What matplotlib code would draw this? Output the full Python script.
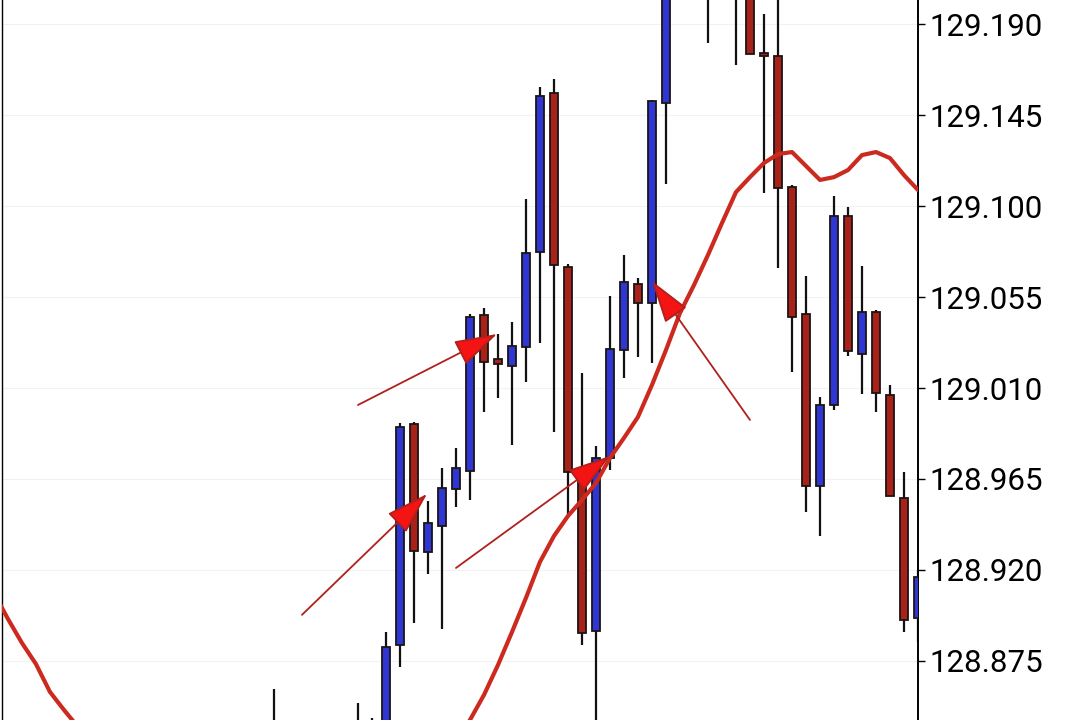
import matplotlib
matplotlib.use("Agg")
import matplotlib.pyplot as plt
from matplotlib.patches import FancyArrowPatch

# candle index 0 is the first candle whose wick shows at the bottom
opens = [128.820, 128.835, 128.820, 128.806, 128.812, 128.826, 128.822, 128.836,
         128.832, 128.8829, 128.9922, 128.9289, 128.9418, 128.9601, 128.9690, 129.0461,
         129.0243, 129.0209, 129.0303, 129.0773, 129.1559, 129.0698, 128.9675, 128.8898,
         128.9754, 129.0288, 129.0614, 129.0520, 129.1509, 129.2210, 129.2120, 129.2190,
         129.2100, 129.2140, 129.2060, 129.1757, 129.1742, 129.1094, 129.0466, 128.9615,
         129.0016, 129.0951, 129.0268, 129.0476, 129.0065, 128.9556, 128.8963]
highs = [128.8612, 128.842, 128.828, 128.818, 128.830, 128.838, 128.8542, 128.8468,
         128.8893, 128.9927, 128.9932, 128.9541, 128.9704, 128.9803, 129.0466, 129.0496,
         129.0367, 129.0426, 129.1035, 129.1589, 129.1628, 129.0713, 129.0174, 128.9813,
         129.0555, 129.0758, 129.0644, 129.1524, 129.2250, 129.2280, 129.2260, 129.2240,
         129.2200, 129.2180, 129.2100, 129.1949, 129.2050, 129.1104, 129.0654, 129.0056,
         129.1050, 129.0995, 129.0703, 129.0486, 129.0115, 128.9685, 128.9200]
lows = [128.812, 128.815, 128.800, 128.795, 128.805, 128.818, 128.815, 128.825,
        128.828, 128.8720, 128.8938, 128.9180, 128.8908, 128.9512, 128.9546, 128.9981,
        129.0051, 128.9818, 129.0130, 129.0323, 128.9882, 128.9462, 128.8829, 128.8335,
        128.9695, 129.0150, 129.0253, 129.0224, 129.1109, 129.2050, 129.2040, 129.1806,
        129.2030, 129.1697, 129.1750, 129.1064, 129.0693, 129.0179, 128.9487, 128.9368,
        128.9991, 129.0258, 129.0070, 128.9981, 128.9566, 128.8893, 128.8844]
closes = [128.835, 128.820, 128.806, 128.812, 128.826, 128.822, 128.836, 128.832,
          128.8819, 128.9907, 128.9294, 128.9433, 128.9606, 128.9704, 129.0451, 129.0229,
          129.0219, 129.0308, 129.0768, 129.1544, 129.0708, 128.9685, 128.8889, 128.9754,
          129.0293, 129.0624, 129.0520, 129.1519, 129.2210, 129.2120, 129.2190, 129.2100,
          129.2140, 129.2060, 129.1752, 129.1742, 129.1089, 129.0451, 128.9615, 129.0016,
          129.0951, 129.0283, 129.0476, 129.0075, 128.9566, 128.8953, 128.9165]

# moving average, read at candle indices -20 .. 46
ma_start = -20
ma = [128.9086, 128.8958, 128.8839, 128.8735, 128.8597, 128.8508, 128.8424, 128.8310,
      128.8211, 128.8112, 128.8038, 128.7974, 128.7914, 128.7865, 128.7825, 128.7796,
      128.7776, 128.7766, 128.7766, 128.7781, 128.7806, 128.7840, 128.7885, 128.7934,
      128.7989, 128.8048, 128.8102, 128.8152, 128.8196, 128.8236, 128.8200, 128.8240,
      128.8285, 128.8350, 128.8458, 128.8582, 128.8730, 128.8893, 128.9062, 128.9240,
      128.9368, 128.9467, 128.9546, 128.9630, 128.9754, 128.9853, 128.9957, 129.0115,
      129.0288, 129.0471, 129.0609, 129.0758, 129.0916, 129.1069, 129.1143, 129.1213,
      129.1257, 129.1267, 129.1198, 129.1129, 129.1143, 129.1178, 129.1252, 129.1267,
      129.1237, 129.1153, 129.1079]

# arrows: (start index, start price, tip index, tip price)
arrows = [(2.0, 128.8978, 10.93, 128.9576),
          (6.0, 129.0016, 15.93, 129.0367),
          (13.0, 128.9210, 24.0, 128.9764),
          (34.0, 128.9942, 27.0, 129.0629)]

yticks = [128.875, 128.920, 128.965, 129.010, 129.055, 129.100, 129.145, 129.190]

UP = '#2e36d4'
DOWN = '#a8221a'
MA_COLOR = '#cc2a1e'

fig = plt.figure(figsize=(10.8, 7.2), dpi=100)
ax = fig.add_axes([1.5 / 1080, 0, 916.5 / 1080, 1])

xs = list(range(len(opens)))
ax.vlines(xs, lows, highs, color='#111111', linewidth=1.6, zorder=2)
for x, o, c in zip(xs, opens, closes):
    col = UP if c > o else DOWN
    h = abs(c - o)
    if h < 0.0012:
        h = 0.0012
    ax.bar(x, h, bottom=min(o, c) if abs(c - o) >= 0.0012 else (o + c) / 2 - 0.0006,
           width=0.62, color=col, edgecolor='#1c1414', linewidth=1.3, zorder=3)

ma_x = list(range(ma_start, ma_start + len(ma)))
ax.plot(ma_x, ma, color=MA_COLOR, linewidth=3.0, zorder=4, solid_capstyle='round')

for x0, y0, x1, y1 in arrows:
    arr = FancyArrowPatch((x0, y0), (x1, y1),
                          arrowstyle='-|>,head_length=1.35,head_width=0.42',
                          mutation_scale=20, facecolor='#f41414', edgecolor='#b0201c',
                          linewidth=1.3, zorder=5, shrinkA=0, shrinkB=0)
    ax.add_patch(arr)

ax.set_xlim(-19.46, 46.0)
ax.set_ylim(128.8458, 129.2019)

ax.yaxis.tick_right()
ax.set_yticks(yticks)
ax.set_yticklabels([f'{t:.3f}' for t in yticks], fontsize=22.5, family='Roboto')
ax.tick_params(axis='y', direction='out', length=5, width=1, pad=3, colors='black')
ax.set_xticks([])
ax.grid(axis='y', color='#f2f2f2', linewidth=0.8)
ax.set_axisbelow(True)

for s in ['top', 'bottom']:
    ax.spines[s].set_visible(False)
ax.spines['left'].set_linewidth(1.0)
ax.spines['right'].set_linewidth(1.4)

fig.savefig('out.png', dpi=100, facecolor='white')
